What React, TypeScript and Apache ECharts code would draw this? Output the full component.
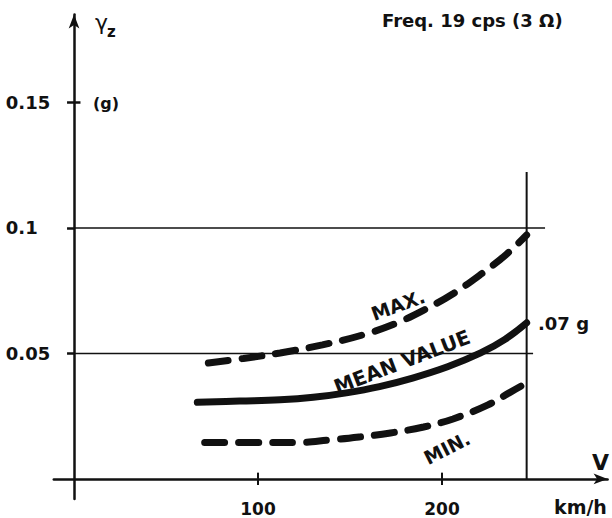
import React, { useEffect, useRef } from 'react';
import * as echarts from 'echarts';

// Speed V (km/h) and vertical acceleration γz (g)
const speedMean = [67, 90, 112, 130, 148, 166, 184, 203, 221, 234, 246];
const accelMean = [0.0305, 0.031, 0.0315, 0.0325, 0.0343, 0.0368, 0.0402, 0.0447, 0.0502, 0.0555, 0.0622];
const speedMax = [73, 92, 112, 135, 157, 175, 190, 206, 222, 235, 246];
const accelMax = [0.0462, 0.048, 0.0502, 0.0534, 0.0574, 0.062, 0.0672, 0.0738, 0.082, 0.0895, 0.0972];
const speedMin = [71, 100, 121, 139, 155, 172, 190, 206, 225, 237, 246];
const accelMin = [0.0145, 0.0145, 0.0145, 0.0155, 0.0167, 0.0183, 0.0207, 0.0239, 0.0295, 0.0345, 0.0382];

const xTicks = [100, 200];
const xTickLabels = ['100', '200'];
const yTicks = [0.05, 0.1, 0.15];
const yTickLabels = ['0.05', '0.1', '0.15'];

// reference lines: [value, extent]
const hLines = [
  [0.1, 256],
  [0.05, 249.5],
];
const vLineSpeed = 246;
const vLineTop = 0.1223;

const FONT = 'DejaVu Sans';
const INK = '#111';

function pairs(xs: number[], ys: number[]) {
  return xs.map((x, i) => [x, ys[i]]);
}

export default function App() {
  const ref = useRef<HTMLDivElement>(null);
  useEffect(() => {
    if (!ref.current) return;
    const chart = echarts.init(ref.current, undefined, { renderer: 'svg' });
    const refSeries: any[] = [];
    hLines.forEach(([v, ext]) => {
      refSeries.push({
        type: 'line',
        data: [[0, v], [ext, v]],
        symbol: 'none',
        silent: true,
        lineStyle: { color: INK, width: 1.5 },
      });
    });
    refSeries.push({
      type: 'line',
      data: [[vLineSpeed, 0], [vLineSpeed, vLineTop]],
      symbol: 'none',
      silent: true,
      lineStyle: { color: INK, width: 2 },
    });
    // upper parts of crossing ticks
    xTicks.forEach((t) => {
      refSeries.push({
        type: 'line',
        data: [[t, 0], [t, 0.0025]],
        symbol: 'none',
        silent: true,
        lineStyle: { color: INK, width: 2 },
      });
    });
    refSeries.push({
      type: 'line',
      data: [[0, 0.15], [3.5, 0.15]],
      symbol: 'none',
      silent: true,
      lineStyle: { color: INK, width: 2.5 },
    });

    const dashed = { type: [20, 14], cap: 'round', width: 7, color: INK };

    chart.setOption({
      animation: false,
      backgroundColor: '#fff',
      grid: {
        left: 53.8,
        right: 4.4,
        top: 14.6,
        bottom: 19,
        containLabel: false,
        outerBoundsMode: 'none',
      },
      xAxis: {
        type: 'value',
        min: -11,
        max: 290,
        splitLine: { show: false },
        axisLine: {
          onZero: true,
          lineStyle: { color: INK, width: 2.5 },
          symbol: ['none', 'arrow'],
          symbolSize: [8, 14],
        },
        axisTick: { customValues: xTicks, length: 6, lineStyle: { color: INK, width: 2 } },
        axisLabel: {
          customValues: xTicks,
          formatter: (v: number) => xTickLabels[xTicks.indexOf(v)] ?? '',
          margin: 1,
          lineHeight: 17,
          fontFamily: FONT,
          fontWeight: 'bold',
          fontSize: 17,
          color: INK,
        },
      },
      yAxis: {
        type: 'value',
        min: -0.008,
        max: 0.185,
        splitLine: { show: false },
        axisLine: {
          onZero: true,
          lineStyle: { color: INK, width: 2.5 },
          symbol: ['none', 'arrow'],
          symbolSize: [8, 14],
        },
        axisTick: { customValues: yTicks, length: 7, lineStyle: { color: INK, width: 2.5 } },
        axisLabel: {
          customValues: yTicks,
          formatter: (v: number) => {
            const i = yTicks.findIndex((t) => Math.abs(t - v) < 1e-9);
            return i >= 0 ? yTickLabels[i] : '';
          },
          align: 'left',
          margin: 48,
          fontFamily: FONT,
          fontWeight: 'bold',
          fontSize: 18,
          color: INK,
        },
      },
      series: [
        ...refSeries,
        {
          name: 'MEAN VALUE',
          type: 'line',
          data: pairs(speedMean, accelMean),
          smooth: 0.4,
          symbol: 'none',
          lineStyle: { color: INK, width: 7, cap: 'round' },
        },
        {
          name: 'MAX.',
          type: 'line',
          data: pairs(speedMax, accelMax),
          smooth: 0.4,
          symbol: 'none',
          lineStyle: dashed,
        },
        {
          name: 'MIN.',
          type: 'line',
          data: pairs(speedMin, accelMin),
          smooth: 0.4,
          symbol: 'none',
          lineStyle: dashed,
        },
      ],
      graphic: [
        { type: 'text', x: 95, y: 11, style: { text: 'γ', font: `22px ${FONT}`, fill: INK } },
        { type: 'text', x: 107, y: 24, style: { text: 'z', font: `bold 15px ${FONT}`, fill: INK } },
        { type: 'text', x: 93, y: 95, style: { text: '(g)', font: `bold 16px ${FONT}`, fill: INK } },
        { type: 'text', x: 382, y: 11, style: { text: 'Freq. 19 cps (3 Ω)', font: `bold 18px ${FONT}`, fill: INK } },
        { type: 'text', x: 538, y: 314, style: { text: '.07 g', font: `bold 18px ${FONT}`, fill: INK } },
        { type: 'text', x: 592, y: 451, style: { text: 'V', font: `bold 22px ${FONT}`, fill: INK } },
        { type: 'text', x: 554, y: 497, style: { text: 'km/h', font: `bold 19px ${FONT}`, fill: INK } },
        {
          type: 'text', x: 398, y: 305, rotation: (20 * Math.PI) / 180,
          style: { text: 'MAX.', font: `bold 19px ${FONT}`, fill: INK, align: 'center', verticalAlign: 'middle' },
        },
        {
          type: 'text', x: 402, y: 362, rotation: (21 * Math.PI) / 180,
          style: { text: 'MEAN VALUE', font: `bold 20px ${FONT}`, fill: INK, align: 'center', verticalAlign: 'middle' },
        },
        {
          type: 'text', x: 447, y: 448, rotation: (27 * Math.PI) / 180,
          style: { text: 'MIN.', font: `bold 19px ${FONT}`, fill: INK, align: 'center', verticalAlign: 'middle' },
        },
      ],
    });
    return () => chart.dispose();
  }, []);
  return (
    <div
      ref={ref}
      style={{ position: 'fixed', left: 0, top: 0, width: 612, height: 518, background: '#fff' }}
    />
  );
}
